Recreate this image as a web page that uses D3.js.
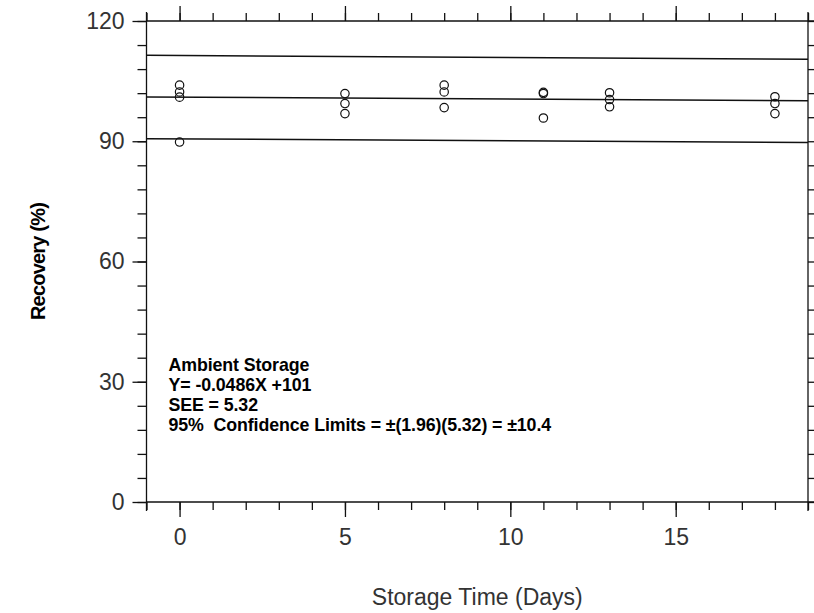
<!DOCTYPE html>
<html><head><meta charset="utf-8">
<script src="https://cdn.jsdelivr.net/npm/d3@7"></script>
<style>
html,body{margin:0;padding:0;background:#fff;}
svg{display:block;}
</style></head>
<body>
<script>
// ---- data ----
const days = [0,0,0,0, 5,5,5, 8,8,8, 11,11,11, 13,13,13, 18,18,18];
const recovery = [104.0,102.3,101.0,89.8, 101.9,99.4,96.9, 104.0,102.3,98.4, 102.2,101.9,95.8, 102.1,100.4,98.6, 101.1,99.4,96.9];
const slope = -0.0486, intercept = 101, limit = 10.4;
const xTicks = [0,5,10,15];
const yTicks = [0,30,60,90,120];
const annotation = [
  "Ambient Storage",
  "Y= -0.0486X +101",
  "SEE = 5.32",
  "95%  Confidence Limits = \u00b1(1.96)(5.32) = \u00b110.4"
];
const xTitle = "Storage Time (Days)";
const yTitle = "Recovery (%)";

(function(){
const W = 814, H = 613;
const svg = d3.select("body").append("svg").attr("width", W).attr("height", H);
const x = d3.scaleLinear().domain([-1, 19]).range([146.5, 808]);
const y = d3.scaleLinear().domain([0, 120]).range([502, 21]);
const labelFont = "'Liberation Sans',Arial,sans-serif";
const boldFont = "'Liberation Sans',Arial,sans-serif";

const stroke = "#111";
function styleTicks(g){ g.select(".domain").remove(); g.selectAll("line").attr("stroke", stroke).attr("stroke-width",1.3); }
function styleLabels(g){ g.selectAll("text").attr("font-family", labelFont).attr("font-size", 23).attr("fill", "#333"); }

// frame lines
const fr = svg.append("g").attr("stroke", stroke).attr("stroke-width", 1.3).attr("fill","none");
fr.append("line").attr("x1", x(-1)).attr("x2", x(-1)).attr("y1", y(0)+9).attr("y2", y(120)-9);
fr.append("line").attr("x1", x(19)).attr("x2", x(19)).attr("y1", y(0)+9).attr("y2", y(120)-9);
fr.append("line").attr("x1", x(-1)).attr("x2", x(19)+6).attr("y1", y(0)).attr("y2", y(0));
fr.append("line").attr("x1", x(-1)).attr("x2", x(19)+6).attr("y1", y(120)).attr("y2", y(120));

const xMinor = d3.range(-1, 20, 1);
const yMinor = d3.range(0, 121, 6);

// bottom axis (ticks down)
svg.append("g").attr("transform", `translate(0,${y(0)})`)
  .call(d3.axisBottom(x).tickValues(xMinor).tickSize(8).tickFormat("")).call(styleTicks);
svg.append("g").attr("transform", `translate(0,${y(0)})`)
  .call(d3.axisBottom(x).tickValues(xTicks).tickSize(15).tickPadding(12).tickFormat(d3.format("d")))
  .call(styleTicks).call(styleLabels);

// top axis (ticks up)
svg.append("g").attr("transform", `translate(0,${y(120)})`)
  .call(d3.axisTop(x).tickValues(xMinor).tickSize(8).tickFormat("")).call(styleTicks);
svg.append("g").attr("transform", `translate(0,${y(120)})`)
  .call(d3.axisTop(x).tickValues(xTicks).tickSize(15).tickFormat("")).call(styleTicks);

// left axis
svg.append("g").attr("transform", `translate(${x(-1)},0)`)
  .call(d3.axisLeft(y).tickValues(yMinor).tickSize(9).tickFormat("")).call(styleTicks);
svg.append("g").attr("transform", `translate(${x(-1)},0)`)
  .call(d3.axisLeft(y).tickValues(yTicks).tickSize(14).tickPadding(8).tickFormat(d3.format("d")))
  .call(styleTicks).call(styleLabels);

// right axis
svg.append("g").attr("transform", `translate(${x(19)},0)`)
  .call(d3.axisRight(y).tickValues(yMinor).tickSize(6).tickFormat("")).call(styleTicks);

// regression & confidence lines
const line = d3.line().x(d => x(d[0])).y(d => y(d[1]));
[0, limit, -limit].forEach(off => {
  const pts = [-1, 19].map(t => [t, intercept + slope * t + off]);
  svg.append("path").attr("d", line(pts)).attr("fill","none")
    .attr("stroke", stroke).attr("stroke-width", 1.5);
});

// points
svg.append("g").selectAll("circle").data(days.map((d,i)=>[d, recovery[i]])).join("circle")
  .attr("cx", d => x(d[0])).attr("cy", d => y(d[1])).attr("r", 4.2)
  .attr("fill","none").attr("stroke", stroke).attr("stroke-width", 1.2);

// annotation
const ann = svg.append("g").attr("font-family", boldFont).attr("font-weight","bold")
  .attr("font-size", 17.8).attr("letter-spacing", "-0.1px").attr("fill","#000");
annotation.forEach((t,i) => {
  ann.append("text").attr("x", x(-1) + 22).attr("y", y(0) - 131 + i*20)
    .style("white-space","pre").text(t);
});

// titles
svg.append("text").attr("x", x(9)).attr("y", 605).attr("text-anchor","middle")
  .attr("font-family", labelFont).attr("font-size", 23).attr("fill","#333").text(xTitle);
svg.append("text").attr("transform", `translate(45,${y(60)}) rotate(-90)`).attr("text-anchor","middle")
  .attr("font-family", boldFont).attr("font-weight","bold").attr("font-size", 20)
  .attr("letter-spacing","-0.8px").attr("fill","#000").text(yTitle);
})();
</script>
</body></html>
